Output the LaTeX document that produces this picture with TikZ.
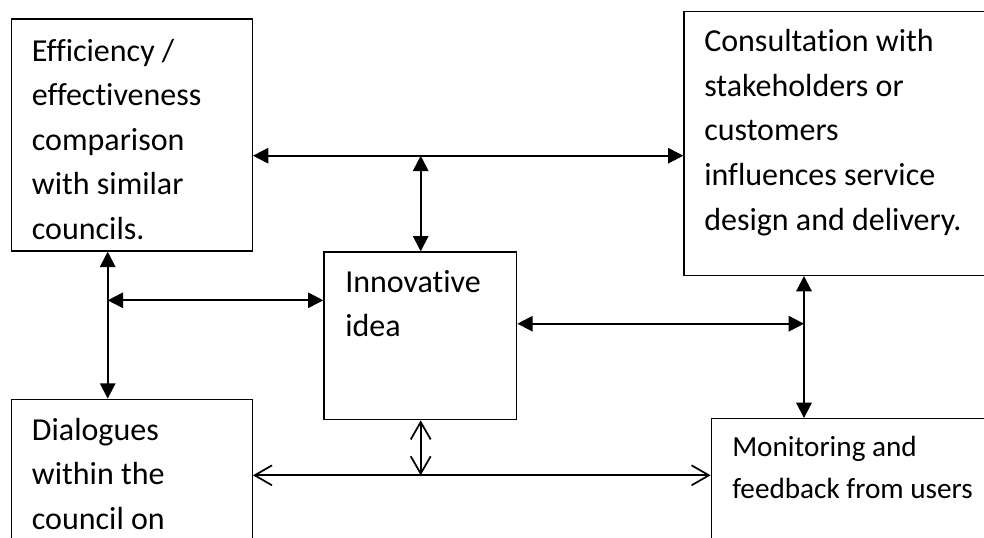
\documentclass[tikz,border=0pt]{standalone}
\usepackage{fontspec}
\setmainfont{Carlito}[Ligatures=NoCommon]
\usetikzlibrary{arrows.meta,fit}
\begin{document}
\begin{tikzpicture}[x=0.75pt,y=-0.75pt,
  box/.style={draw=black,line width=1pt,inner sep=0pt,fill=none},
  txt/.style={inner sep=0pt,anchor=base west,align=left,font=\fontsize{24}{33.45}\selectfont},
  stxt/.style={inner sep=0pt,anchor=base west,align=left,font=\fontsize{21.9}{31.3}\selectfont},
  bi/.style={line width=1.5pt,{Triangle[length=11.5pt,width=11.5pt]}-{Triangle[length=11.5pt,width=11.5pt]}},
  obi/.style={line width=1.3pt,{Straight Barb[length=13pt,width=15pt]}-{Straight Barb[length=13pt,width=15pt]}}]
\useasboundingbox (0,0) rectangle (984,537);
\clip (0,0) rectangle (984,537);
\fill[white] (0,0) rectangle (984,537);
% boxes
\node[box,fit={(11.7,19) (252.3,251)}] (eff) {};
\node[box,fit={(684,11.3) (1040,275.3)}] (cons) {};
\node[box,fit={(324,252) (516.7,419.7)}] (innov) {};
\node[box,fit={(11.7,399.3) (252.3,600)}] (dial) {};
\node[box,fit={(711.3,418.7) (1040,600)}] (mon) {};
% texts (anchored at the baseline of the last line)
\node[txt] (effT) at (31.7,239.4) {Efficiency /\\effectiveness\\comparison\\with similar\\councils.};
\node[txt] (consT) at (704,230) {Consultation with\\stakeholders or\\customers\\influences service\\design and delivery.};
\node[txt] (innovT) at (345,336.6) {Innovative\\idea};
\node[txt] (dialT) at (31.7,529.5) {Dialogues\\within the\\council on};
\node[stxt] (monT) at (732,498.7) {Monitoring and\\feedback from users};
% helper coordinates
\coordinate (yTop) at (0,155.7);
\coordinate (xMid) at (420.7,0);
\coordinate (xLeft) at (107.7,0);
\coordinate (yLeft) at (0,300.3);
\coordinate (yRight) at (0,323.7);
\coordinate (xRight) at (804,0);
\coordinate (yBot) at (0,475.3);
\coordinate (jTop) at (420.7,155.7);
\coordinate (jLeft) at (107.7,300.3);
\coordinate (jRight) at (804,323.7);
\coordinate (jBot) at (420.7,475.3);
% connectors
\draw[bi] (eff.east |- yTop) -- (cons.west |- yTop);
\draw[bi] (jTop) -- (innov.north -| xMid);
\draw[bi] (eff.south -| xLeft) -- (dial.north -| xLeft);
\draw[bi] (jLeft) -- (innov.west |- yLeft);
\draw[bi] (innov.east |- yRight) -- (jRight);
\draw[bi] (cons.south -| xRight) -- (mon.north -| xRight);
\draw[obi] (dial.east |- yBot) -- (mon.west |- yBot);
\draw[obi] (innov.south -| xMid) -- (jBot);
\end{tikzpicture}
\end{document}
